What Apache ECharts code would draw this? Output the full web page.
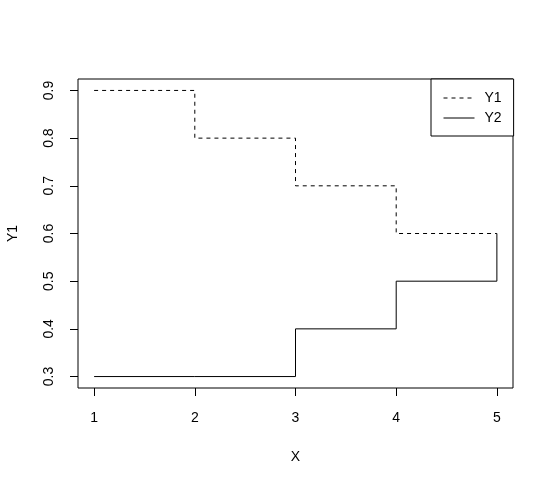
<!DOCTYPE html>
<html><head><meta charset="utf-8">
<script src="https://cdn.jsdelivr.net/npm/echarts@6/dist/echarts.min.js"></script>
<style>html,body{margin:0;padding:0;background:#fff}#c{width:554px;height:486px}</style>
</head><body><div id="c"></div>
<script>
const xValues = [1, 2, 3, 4, 5];
const y1 = [0.9, 0.8, 0.7, 0.6, 0.6];
const y2 = [0.3, 0.3, 0.4, 0.5, 0.6];
const xTicks = [1, 2, 3, 4, 5];
const yTicks = [0.3, 0.4, 0.5, 0.6, 0.7, 0.8, 0.9];

const font = 'Liberation Sans, Arial, sans-serif';
const chart = echarts.init(document.getElementById('c'), null, {renderer: 'canvas'});
chart.setOption({
  animation: false,
  backgroundColor: '#fff',
  grid: {left: 78, right: 41, top: 79, bottom: 98, containLabel: false, outerBoundsMode: 'none',
         show: true, borderColor: '#000', borderWidth: 1, backgroundColor: 'transparent'},
  xAxis: {
    type: 'value', min: 0.84, max: 5.16,
    name: 'X', nameLocation: 'middle', nameGap: 62,
    nameTextStyle: {fontFamily: font, fontSize: 14, color: '#000'},
    axisLine: {show: false},
    splitLine: {show: false},
    axisTick: {show: true, length: 8, customValues: xTicks, lineStyle: {color: '#000'}},
    axisLabel: {customValues: xTicks, fontFamily: font, fontSize: 14, color: '#000', margin: 23, formatter: v => String(v)}
  },
  yAxis: {
    type: 'value', min: 0.276, max: 0.924,
    name: 'Y1', nameLocation: 'middle', nameGap: 58, nameRotate: 90,
    nameTextStyle: {fontFamily: font, fontSize: 14, color: '#000'},
    axisLine: {show: false},
    splitLine: {show: false},
    axisTick: {show: true, length: 8, customValues: yTicks, lineStyle: {color: '#000'}},
    axisLabel: {customValues: yTicks, rotate: 90, fontFamily: font, fontSize: 14, color: '#000', margin: 22, formatter: v => v.toFixed(1)}
  },
  legend: {
    left: 431, top: 79, orient: 'vertical',
    padding: [12, 12, 11, 12],
    itemWidth: 31, itemHeight: 14, itemGap: 6,
    borderColor: '#000', borderWidth: 1, borderRadius: 0,
    backgroundColor: '#fff',
    itemStyle: {opacity: 0},
    lineStyle: {width: 1},
    textStyle: {fontFamily: font, fontSize: 14, color: '#000', padding: [0, 0, 0, 5]},
    data: ['Y1', 'Y2']
  },
  series: [
    {name: 'Y1', type: 'line', step: 'end', symbol: 'none', data: xValues.map((x, i) => [x, y1[i]]),
     lineStyle: {color: '#000', width: 1, type: [4, 4]}, itemStyle: {color: '#000'}},
    {name: 'Y2', type: 'line', step: 'end', symbol: 'none', data: xValues.map((x, i) => [x, y2[i]]),
     lineStyle: {color: '#000', width: 1, type: 'solid'}, itemStyle: {color: '#000'}}
  ]
});
</script></body></html>
